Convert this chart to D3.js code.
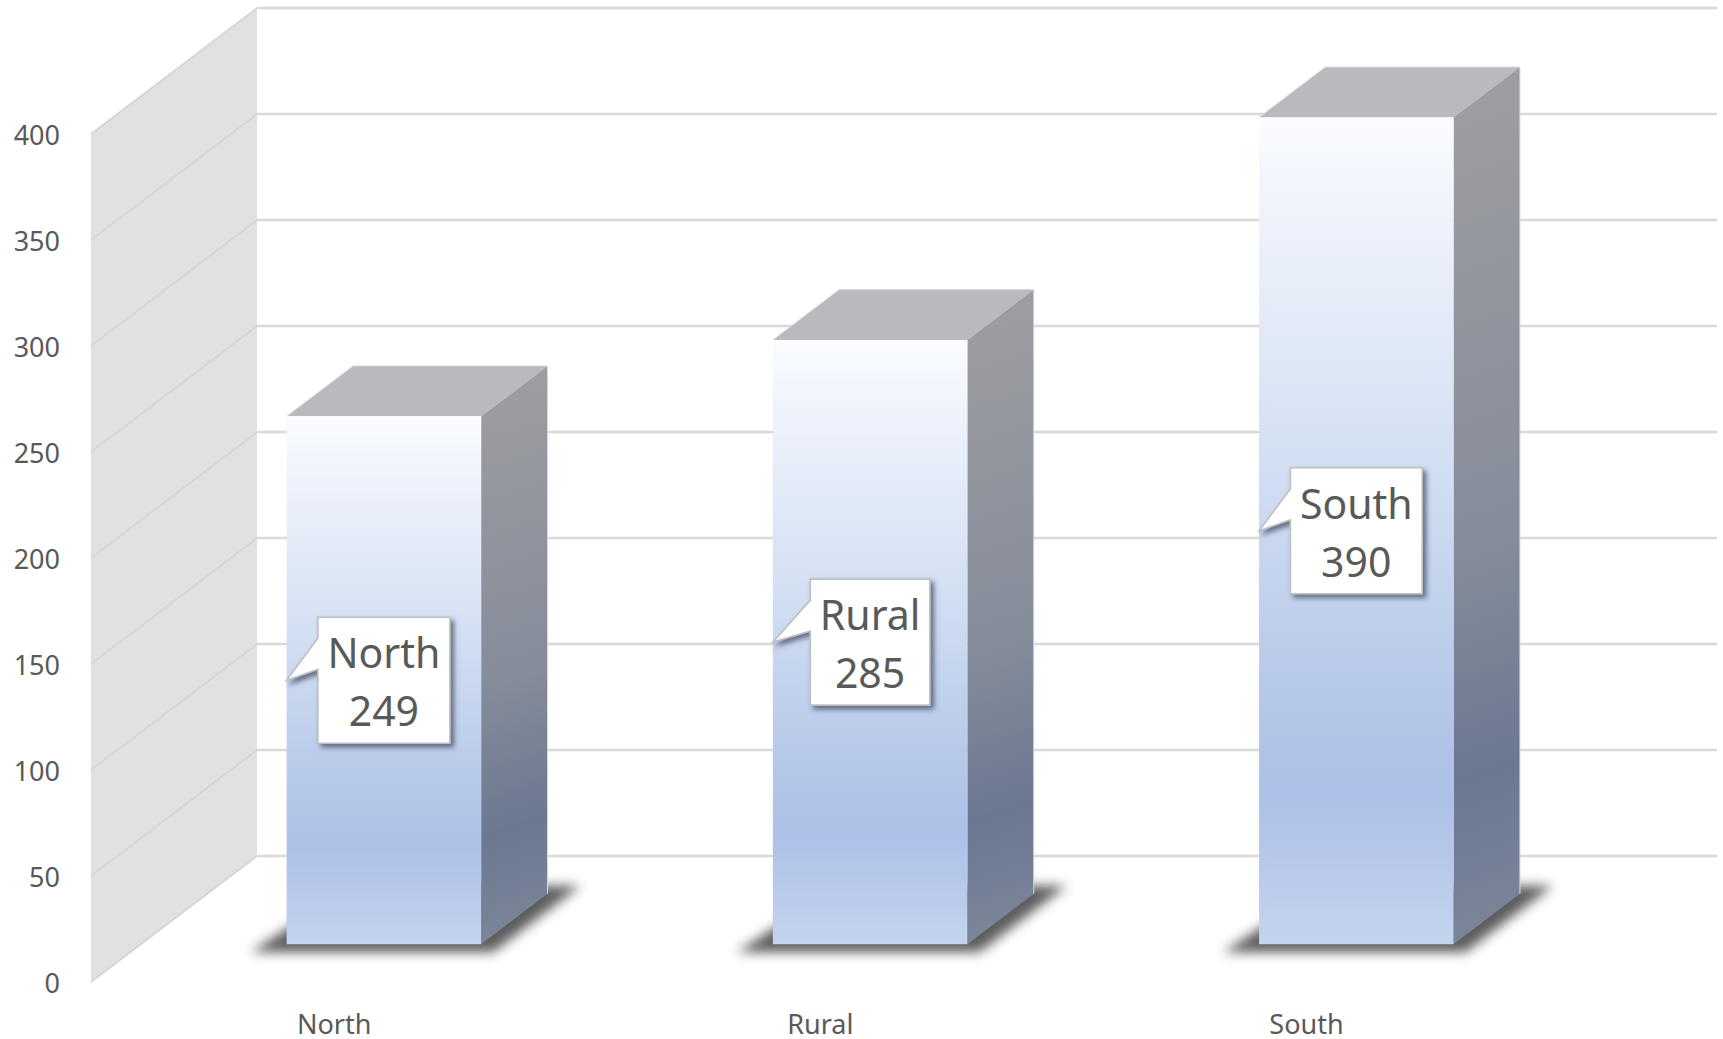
<!DOCTYPE html>
<html>
<head>
<meta charset="utf-8">
<script src="https://cdn.jsdelivr.net/npm/d3@7/dist/d3.min.js"></script>
<style>
html,body{margin:0;padding:0;background:#fff;overflow:hidden}
svg{display:block}
text{font-family:"Noto Sans","Open Sans",sans-serif;fill:#595959}
</style>
</head>
<body>
<svg id="chart" width="1723" height="1039"></svg>
<script>
const categories = ["North", "Rural", "South"];
const values = [249, 285, 390];
const yTicks = [0, 50, 100, 150, 200, 250, 300, 350, 400];

const W = 1723, H = 1039;
const depthX = 166, depthY = 126;           // oblique offset of the wall
const barNear = 0.3, barFar = 0.7;          // bar depth as a fraction of the wall depth
const svg = d3.select("#chart");
const defs = svg.append("defs");

const x = d3.scaleBand().domain(categories).range([91, 1549.6]).paddingInner(0.6).paddingOuter(0.3);
const y = d3.scaleLinear().domain([0, 400]).range([982, 134]);

// oblique projection: (category position, value, depth fraction) -> pixel
const px = (xv, t) => xv + t * depthX;
const py = (v, t) => y(v) - t * depthY;
const pts = a => a.map(p => p.join(",")).join(" ");

// ---------- filters ----------
const blur = defs.append("filter").attr("id", "floorShadow")
  .attr("x", "-30%").attr("y", "-30%").attr("width", "160%").attr("height", "160%");
blur.append("feGaussianBlur").attr("stdDeviation", 6);
const cs = defs.append("filter").attr("id", "calloutShadow")
  .attr("x", "-20%").attr("y", "-20%").attr("width", "140%").attr("height", "140%");
cs.append("feDropShadow").attr("dx", 3.5).attr("dy", 3.5).attr("stdDeviation", 2.6)
  .attr("flood-color", "#38435a").attr("flood-opacity", 0.7);

// ---------- walls ----------
const [y0, yMax] = y.domain();
svg.append("polygon").attr("fill", "#e1e1e1").attr("points", pts([
  [px(x.range()[0], 0), py(y0, 0)], [px(x.range()[0], 1), py(y0, 1)],
  [px(x.range()[0], 1), py(yMax, 1)], [px(x.range()[0], 0), py(yMax, 0)]
]));
const grid = svg.append("g").attr("fill", "none").attr("stroke-width", 2.4);
yTicks.forEach(v => {
  grid.append("line").attr("stroke", "#d9d9d9")
    .attr("x1", px(x.range()[0], 1)).attr("y1", py(v, 1))
    .attr("x2", 1717).attr("y2", py(v, 1));
  grid.append("line").attr("stroke", "#d5d5d5").attr("stroke-width", 1.8)
    .attr("x1", px(x.range()[0], 0)).attr("y1", py(v, 0))
    .attr("x2", px(x.range()[0], 1)).attr("y2", py(v, 1));
});

// ---------- bars ----------
const bars = svg.append("g");
categories.forEach((c, i) => {
  const v = values[i], L = x(c), R = L + x.bandwidth();
  const fl = px(L, barNear), fr = px(R, barNear), br = px(R, barFar), bl = px(L, barFar);
  const fb = py(0, barNear), ft = py(v, barNear), bb = py(0, barFar), bt = py(v, barFar);

  // floor shadow
  bars.append("polygon").attr("fill", "#505050").attr("opacity", 0.92)
    .attr("filter", "url(#floorShadow)")
    .attr("points", pts([[fl - 36, fb + 8], [fr + 12, fb + 8], [br + 33, bb - 8], [bl, bb - 8]]));

  // gradients
  const gf = defs.append("linearGradient").attr("id", "front" + i)
    .attr("gradientUnits", "userSpaceOnUse").attr("x1", 0).attr("x2", 0).attr("y1", ft).attr("y2", fb);
  [[0, "#fafcff"], [0.1, "#f0f4fc"], [0.3, "#dee7f6"], [0.5, "#cad8f0"], [0.7, "#b5c8e8"], [0.82, "#adc0e6"], [1, "#c4d4ef"]]
    .forEach(s => gf.append("stop").attr("offset", s[0]).attr("stop-color", s[1]));
  const sideH = fb - bt;
  const gs = defs.append("linearGradient").attr("id", "side" + i)
    .attr("gradientUnits", "userSpaceOnUse")
    .attr("x1", fr).attr("y1", bt).attr("x2", fr + 0.32 * sideH).attr("y2", fb);
  [[0.03, "#9d9ea1"], [0.2, "#94979e"], [0.5, "#858c9a"], [0.74, "#6c7891"], [1, "#838d9e"]]
    .forEach(s => gs.append("stop").attr("offset", s[0]).attr("stop-color", s[1]));

  // faces
  bars.append("polygon").attr("fill", "#b9babe").attr("points", pts([[fl, ft], [fr, ft], [br, bt], [bl, bt]]));
  bars.append("polygon").attr("fill", `url(#side${i})`).attr("points", pts([[fr, ft], [br, bt], [br, bb], [fr, fb]]));
  bars.append("rect").attr("x", fl).attr("y", ft).attr("width", fr - fl).attr("height", fb - ft)
    .attr("fill", `url(#front${i})`);
  // thin light silhouette edge
  bars.append("polyline").attr("fill", "none").attr("stroke", "#d9d9d9").attr("stroke-width", 1)
    .attr("points", pts([[fl, ft], [bl, bt], [br, bt], [br, bb]]));
});

// ---------- callout data labels ----------
const labels = svg.append("g");
const boxH = 126, padX = 9.5;
categories.forEach((c, i) => {
  const v = values[i], L = x(c), R = L + x.bandwidth();
  const fl = px(L, barNear), fr = px(R, barNear);
  const my = (py(v, barNear) + py(0, barNear)) / 2;
  const cx = (fl + fr) / 2;
  const g = labels.append("g");
  const path = g.append("path");
  const t1 = g.append("text").attr("x", cx).attr("y", my - 12).attr("text-anchor", "middle")
    .attr("font-size", 41).text(c);
  const t2 = g.append("text").attr("x", cx).attr("y", my + 46).attr("text-anchor", "middle")
    .attr("font-size", 41).text(v);
  const w = Math.max(t1.node().getComputedTextLength(), t2.node().getComputedTextLength()) + 2 * padX;
  const l = cx - w / 2, r = cx + w / 2, top = my - boxH / 2, bot = my + boxH / 2;
  path.attr("d", `M${l},${top}H${r}V${bot}H${l}V${top + 52}L${fl},${my}L${l},${top + 21}Z`)
    .attr("fill", "#fff").attr("stroke", "#bfbfbf").attr("stroke-width", 1.6)
    .attr("stroke-linejoin", "miter").attr("filter", "url(#calloutShadow)");
});

// ---------- axes ----------
const yAxis = svg.append("g").attr("transform", "translate(60,10.5)")
  .call(d3.axisLeft(y).tickValues(yTicks).tickSize(0).tickPadding(0));
yAxis.select(".domain").remove();
yAxis.selectAll("text").attr("font-size", 27).attr("dy", null).attr("y", 0).style("font-family", '"Noto Sans"').attr("fill", "#595959");

const xAxis = svg.append("g").attr("transform", "translate(0,1033.5)")
  .call(d3.axisBottom(x).tickSize(0).tickPadding(0));
xAxis.select(".domain").remove();
xAxis.selectAll("text").attr("font-size", 27).attr("dy", null).attr("y", 0).style("font-family", '"Noto Sans"').attr("fill", "#595959");
</script>
</body>
</html>
